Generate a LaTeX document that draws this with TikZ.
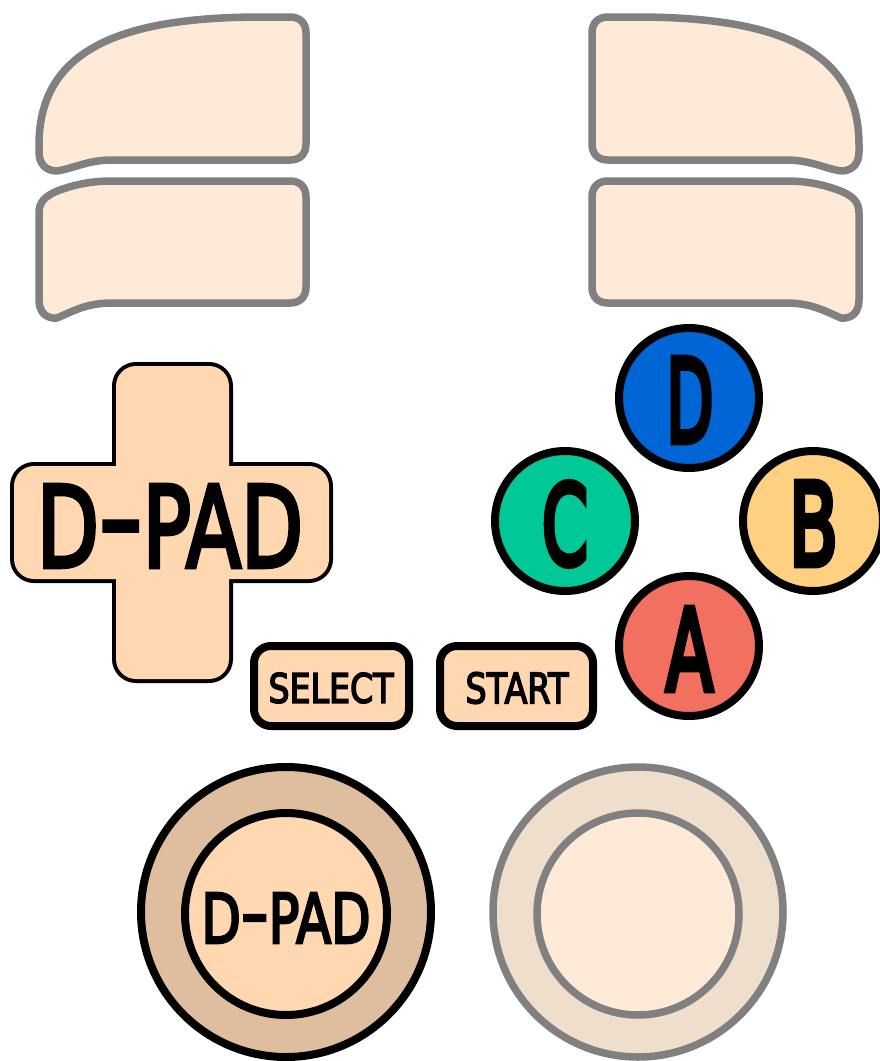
\documentclass[tikz,border=0pt]{standalone}
\usepackage{fontspec}
\setmainfont{DejaVu Sans}
\newfontfamily\lblfont{DejaVu Sans}[BoldFont={DejaVu Sans}, BoldFeatures={FakeBold=4}]
\newfontfamily\letfont{DejaVu Sans}[BoldFont={DejaVu Sans}, BoldFeatures={FakeBold=6}]
\definecolor{sgrey}{RGB}{128,128,128}
\definecolor{shfill}{RGB}{255,234,216}
\definecolor{peach}{RGB}{255,216,177}
\definecolor{tanring}{RGB}{222,190,158}
\definecolor{paletan}{RGB}{238,222,203}
\definecolor{bluebtn}{RGB}{0,102,214}
\definecolor{greenbtn}{RGB}{0,200,150}
\definecolor{yellowbtn}{RGB}{255,208,130}
\definecolor{redbtn}{RGB}{242,112,96}
\tikzset{
  shoulder/.style={draw=sgrey, line width=7.5pt, fill=shfill, line join=round},
  blackline/.style={draw=black, line width=8pt},
  peachbox/.style={blackline, fill=peach, rounded corners=17pt},
  facebtn/.style={blackline},
  lbl/.style={inner sep=0pt, outer sep=0pt, font=\lblfont\bfseries},
  letlbl/.style={inner sep=0pt, outer sep=0pt, font=\letfont\bfseries},
}
\newcommand{\dash}{\raisebox{0.09em}{\scalebox{1.5}[1]{-}}}
\newcommand{\shTopPath}{(112,160) -- (290,160) .. controls (300,160) and (306,154) .. (306,144) -- (306,33) .. controls (306,23) and (300,17) .. (290,17) -- (262,17) .. controls (120,17) and (39,50) .. (39,145) -- (39,152) .. controls (39,164) and (46,171) .. (57,171) .. controls (75,168) and (88,160) .. (112,160) -- cycle}
\newcommand{\shBotPath}{(112,181) -- (290,181) .. controls (300,181) and (306,187) .. (306,197) -- (306,287) .. controls (306,297) and (300,303) .. (290,303) -- (112,303) .. controls (88,303) and (75,310) .. (57,318) .. controls (46,319) and (39,312) .. (39,300) -- (39,213) .. controls (39,203) and (44,197) .. (55,192) .. controls (72,185) and (90,181) .. (112,181) -- cycle}
\begin{document}
\begin{tikzpicture}[x=1pt,y=-1pt]
\useasboundingbox (0,0) rectangle (879,1061);
\fill[white] (0,0) rectangle (879,1061);

% shoulders
\draw[shoulder] \shTopPath;
\draw[shoulder] \shBotPath;
\begin{scope}[xshift=898pt, xscale=-1]
  \draw[shoulder] \shTopPath;
  \draw[shoulder] \shBotPath;
\end{scope}

% D-pad cross
\draw[blackline, rounded corners=20pt] (116,366) rectangle (229,679);
\draw[blackline, rounded corners=20pt] (14,466) rectangle (329,579);
\fill[peach, rounded corners=20pt] (116,366) rectangle (229,679);
\fill[peach, rounded corners=20pt] (14,466) rectangle (329,579);
\node[lbl] (dpadtxt) at (170,526) {\resizebox{266pt}{82pt}{D\dash PAD}};

% select / start
\draw[peachbox] (254,646) rectangle (409,726);
\node[lbl] (selecttxt) at (331,688) {\resizebox{125pt}{30pt}{SELECT}};
\draw[peachbox] (440,646) rectangle (593,726);
\node[lbl] (starttxt) at (517,688) {\resizebox{103pt}{31pt}{START}};

% face buttons
\draw[facebtn, fill=bluebtn] (689,398) circle[radius=70pt];
\node[letlbl] (dtxt) at (690,400) {\resizebox{47pt}{84pt}{D}};
\draw[facebtn, fill=greenbtn] (565,521) circle[radius=70pt];
\node[letlbl] (ctxt) at (565,524) {\resizebox{46pt}{82pt}{C}};
\draw[facebtn, fill=yellowbtn] (813,521) circle[radius=70pt];
\node[letlbl] (btxt) at (813.5,523.5) {\resizebox{49pt}{83pt}{B}};
\draw[facebtn, fill=redbtn] (689,646) circle[radius=70pt];
\node[letlbl] (atxt) at (689.5,649) {\resizebox{47pt}{82pt}{A}};

% sticks
\draw[blackline, fill=tanring] (286,912) circle[radius=145pt];
\draw[blackline, fill=peach] (286,914) circle[radius=101pt];
\node[lbl] (sticktxt) at (286,918) {\resizebox{169pt}{50pt}{D\dash PAD}};
\draw[draw=sgrey, line width=7.5pt, fill=paletan] (638,912) circle[radius=145pt];
\draw[draw=sgrey, line width=7.5pt, fill=shfill] (638,914) circle[radius=101pt];
\end{tikzpicture}
\end{document}
